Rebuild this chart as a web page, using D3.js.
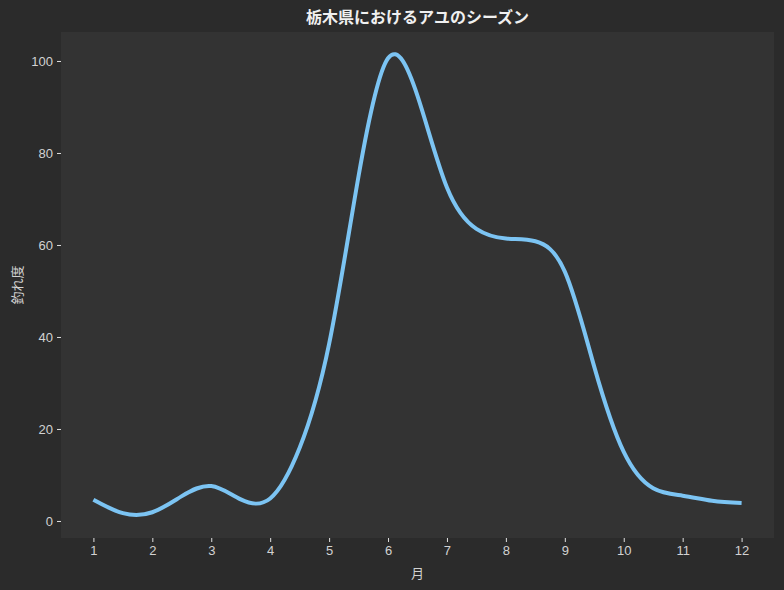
<!DOCTYPE html>
<html>
<head>
<meta charset="utf-8">
<script src="https://cdn.jsdelivr.net/npm/d3@7"></script>
<style>
  html, body { margin: 0; padding: 0; background: #2b2b2b; }
  svg { display: block; font-family: "Noto Sans CJK JP", "Noto Sans", sans-serif; }
</style>
</head>
<body>
<svg id="chart" width="784" height="590"></svg>
<script>
// half-month readings (month, score)
const months = [1, 1.5, 2, 2.5, 3, 3.5, 4, 4.5, 5, 5.5, 6, 6.5, 7, 7.5, 8, 8.5, 9, 9.5, 10, 10.5, 11, 11.5, 12];
const scores = [4.6, 1.7, 1.9, 5.4, 7.6, 4.7, 4.9, 15.9, 38.5, 75, 100.6, 92.4, 72.5, 63.5, 61.4, 60.8, 54.2, 33.5, 15, 7.1, 5.5, 4.4, 3.9];
const xTicks = [1, 2, 3, 4, 5, 6, 7, 8, 9, 10, 11, 12];
const yTicks = [0, 20, 40, 60, 80, 100];

const width = 784, height = 590;
const margin = { top: 32, right: 10, bottom: 52, left: 61 };
const innerWidth = width - margin.left - margin.right;
const innerHeight = height - margin.top - margin.bottom;

const svg = d3.select("#chart");

svg.append("rect")
  .attr("width", width)
  .attr("height", height)
  .attr("fill", "#2b2b2b");

const g = svg.append("g")
  .attr("transform", `translate(${margin.left},${margin.top})`);

g.append("rect")
  .attr("width", innerWidth)
  .attr("height", innerHeight)
  .attr("fill", "#333333");

const x = d3.scaleLinear()
  .domain([0.45, 12.55])
  .range([0, innerWidth]);

const y = d3.scaleLinear()
  .domain([-3.7, 106.3])
  .range([innerHeight, 0]);

// axes
const xAxis = g.append("g")
  .attr("transform", `translate(0,${innerHeight})`)
  .call(d3.axisBottom(x).tickValues(xTicks).tickSize(4).tickPadding(4).tickFormat(d3.format("d")));

const yAxis = g.append("g")
  .call(d3.axisLeft(y).tickValues(yTicks).tickSize(4).tickPadding(4));

[xAxis, yAxis].forEach((a) => {
  a.select(".domain").remove();
  a.selectAll("line").attr("stroke", "#e0e0e0");
  a.selectAll("text").attr("fill", "#d2d2d2").style("font-size", "13px");
});

// line
const data = months.map((m, i) => ({ m, v: scores[i] }));

const line = d3.line()
  .x((d) => x(d.m))
  .y((d) => y(d.v))
  .curve(d3.curveNatural);

g.append("path")
  .datum(data)
  .attr("fill", "none")
  .attr("stroke", "#7cc4f3")
  .attr("stroke-width", 4)
  .attr("d", line);

// title and labels
svg.append("text")
  .attr("x", margin.left + innerWidth / 2)
  .attr("y", 23)
  .attr("text-anchor", "middle")
  .attr("fill", "#f0f0f0")
  .style("font-size", "16px")
  .style("font-weight", "bold")
  .text("栃木県におけるアユのシーズン");

svg.append("text")
  .attr("x", margin.left + innerWidth / 2)
  .attr("y", 578)
  .attr("text-anchor", "middle")
  .attr("fill", "#d2d2d2")
  .style("font-size", "13px")
  .text("月");

svg.append("text")
  .attr("transform", `translate(22,${margin.top + innerHeight / 2}) rotate(-90)`)
  .attr("text-anchor", "middle")
  .attr("fill", "#d2d2d2")
  .style("font-size", "13px")
  .text("釣れ度");
</script>
</body>
</html>
